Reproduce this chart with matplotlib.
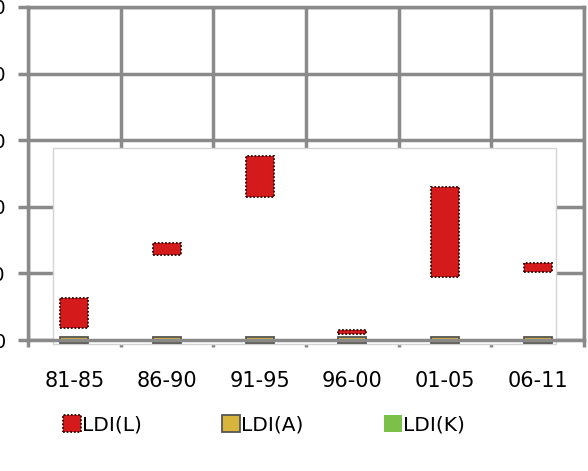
import numpy as np
import matplotlib.pyplot as plt
from matplotlib.patches import Rectangle

# periods and floating bar ranges (low, high)
periods = ['81-85', '86-90', '91-95', '96-00', '01-05', '06-11']
ldi_l_low = [1.8, 12.8, 21.5, 0.9, 9.5, 10.2]
ldi_l_high = [6.3, 14.6, 27.7, 1.5, 23.0, 11.6]
ldi_a_low = [-0.5, -0.5, -0.5, -0.5, -0.5, -0.5]
ldi_a_high = [0.4, 0.4, 0.4, 0.4, 0.4, 0.4]
ldi_k_low = [0, 0, 0, 0, 0, 0]
ldi_k_high = [0, 0, 0, 0, 0, 0]
yticks = [0, 10, 20, 30, 40, 50]

grid_col = '#8a8a8a'

fig = plt.figure(figsize=(5.88, 4.71), dpi=100)
ax = fig.add_axes([28 / 588, 1 - 340 / 471, 556 / 588, 333 / 471])

x = np.arange(len(periods)) + 0.5
w = 0.30

# inner white plot area covering the lower grid
ax.add_patch(Rectangle((0.27, -0.6), 5.43, 29.5, facecolor='white',
                       edgecolor='#d4d4d4', lw=1, zorder=1.5, clip_on=False))

lo, hi = np.array(ldi_l_low), np.array(ldi_l_high)
ax.bar(x, hi - lo, w, bottom=lo, color='#d41a1a', edgecolor='#2a0000',
       lw=1.3, linestyle=(0, (1, 1)), zorder=3, label='LDI(L)')
lo, hi = np.array(ldi_a_low), np.array(ldi_a_high)
ax.bar(x, hi - lo, w, bottom=lo, color='#d8b43c', edgecolor='#555555',
       lw=1.3, zorder=3, clip_on=False, label='LDI(A)')
lo, hi = np.array(ldi_k_low), np.array(ldi_k_high)
ax.bar(x, hi - lo, w, bottom=lo, color='#7cc04a', edgecolor='#333333',
       lw=0, zorder=3, label='LDI(K)')

ax.set_xlim(0, 6)
ax.set_ylim(0, 50)
ax.set_yticks(yticks)
ax.set_yticklabels([str(v) for v in yticks], fontsize=14)
ax.set_xticks(range(7))
ax.set_xticks(x, minor=True)
ax.set_xticklabels([])
ax.set_xticklabels(periods, minor=True, fontsize=15)
ax.tick_params(axis='x', which='minor', length=0, pad=22)
ax.tick_params(axis='x', which='major', length=5, width=2.5, color=grid_col)
ax.tick_params(axis='y', length=7, width=2.5, color=grid_col, pad=9)
ax.grid(True, which='major', color=grid_col, lw=2.5, zorder=1)
ax.set_axisbelow(True)
for s in ax.spines.values():
    s.set_color(grid_col)
    s.set_linewidth(2.5)
    s.set_zorder(4)

leg = ax.legend(loc='center', bbox_to_anchor=(264 / 588, 1 - 425 / 471),
                bbox_transform=fig.transFigure, ncol=3, frameon=False,
                fontsize=14.5, handlelength=0.9, handleheight=0.9,
                handletextpad=0.05, columnspacing=4.0)

fig.savefig('out.png', dpi=100)
